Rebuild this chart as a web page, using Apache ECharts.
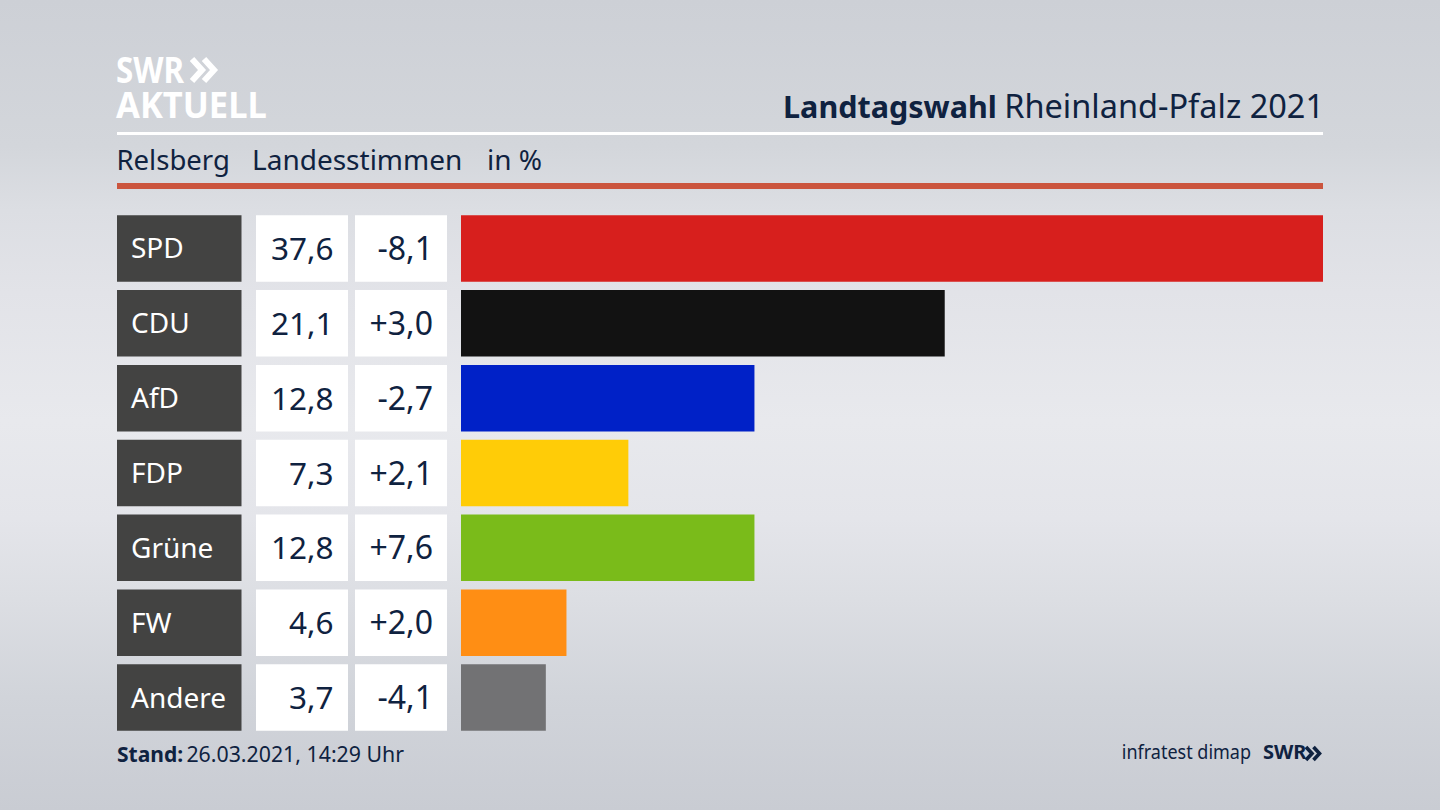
<!DOCTYPE html>
<html lang="de">
<head>
    <meta charset="UTF-8">
    <title>Landtagswahl Rheinland-Pfalz 2021</title>
    <style>
        html, body { margin: 0; height: 100%; }
        body {
            background: linear-gradient(to bottom, #cdd0d6 0%, #d3d6db 18%, #dcdee3 26%, #e2e3e8 36%, #e8e9ed 52%, #e4e5ea 64%, #dcdee3 74%, #d1d4da 86%, #c9ccd3 100%);
        }
        #chart { width: 1440px; height: 810px; }
    </style>
</head>
<body>
<div id="chart"></div>
<script src="https://cdn.jsdelivr.net/npm/echarts@6/dist/echarts.min.js"></script>
<script>
    var parties = ['SPD', 'CDU', 'AfD', 'FDP', 'Grüne', 'FW', 'Andere'];
    var shares = [37.6, 21.1, 12.8, 7.3, 12.8, 4.6, 3.7];
    var changes = ['-8,1', '+3,0', '-2,7', '+2,1', '+7,6', '+2,0', '-4,1'];
    var partyColors = ['#d71f1d', '#121212', '#0021c7', '#ffcc07', '#7abb1a', '#ff8e14', '#727274'];
    var cellFill = [1, 1, 1, 1, 1, 1, 1];

    var navy = '#0f2240';
    var font = '"Noto Sans", sans-serif';

    var myChart = echarts.init(document.getElementById('chart'), null, { renderer: 'svg' });

    function shareText(v) {
        return v.toFixed(1).replace('.', ',');
    }

    // die drei Tabellenspalten links, dann die eigentlichen Balken
    var columns = [
        { left: 117, width: 124.5, color: '#434342', text: parties, textColor: '#ffffff', pos: 'insideLeft', size: 28, dist: 14 },
        { left: 256, width: 92, color: '#ffffff', text: shares.map(shareText), textColor: navy, pos: 'insideRight', size: 31.5, dist: 14.5 },
        { left: 355, width: 92, color: '#ffffff', text: changes, textColor: navy, pos: 'insideRight', size: 32, dist: 14 }
    ];

    var grids = [], xAxes = [], yAxes = [], series = [];

    columns.forEach(function (col, i) {
        grids.push({ left: col.left, width: col.width, top: 211, height: 524 });
        xAxes.push({ gridIndex: i, type: 'value', min: 0, max: 1, show: false });
        yAxes.push({ gridIndex: i, type: 'category', data: parties, inverse: true, show: false });
        series.push({
            type: 'bar',
            xAxisIndex: i,
            yAxisIndex: i,
            data: cellFill,
            barWidth: 66.5,
            silent: true,
            itemStyle: { color: col.color },
            label: {
                show: true,
                position: col.pos,
                distance: col.dist,
                offset: [0, -1],
                color: col.textColor,
                fontFamily: font,
                fontSize: col.size,
                formatter: function (p) { return col.text[p.dataIndex]; }
            }
        });
    });

    grids.push({ left: 461, right: 117, top: 211, height: 524 });
    xAxes.push({ gridIndex: 3, type: 'value', min: 0, max: 37.6, show: false });
    yAxes.push({ gridIndex: 3, type: 'category', data: parties, inverse: true, show: false });
    series.push({
        type: 'bar',
        xAxisIndex: 3,
        yAxisIndex: 3,
        barWidth: 66.5,
        data: shares.map(function (v, i) {
            return { value: v, itemStyle: { color: partyColors[i] } };
        })
    });

    function chevrons(x, y, h, w, gap, lw, color) {
        var out = [];
        [0, gap].forEach(function (dx) {
            out.push({
                type: 'polyline',
                shape: { points: [[x + dx, y], [x + dx + w, y + h / 2], [x + dx, y + h]] },
                style: { stroke: color, lineWidth: lw, fill: null }
            });
        });
        return out;
    }

    var option = {
        animation: false,
        backgroundColor: 'transparent',
        grid: grids,
        xAxis: xAxes,
        yAxis: yAxes,
        series: series,
        graphic: [
            { type: 'rect', shape: { x: 117, y: 132, width: 1206, height: 3 }, style: { fill: '#ffffff' } },
            { type: 'rect', shape: { x: 117, y: 183, width: 1206, height: 6 }, style: { fill: '#cb553e' } },
            { type: 'text', x: 116, y: 54, scaleX: 0.87, style: { text: 'SWR', fill: '#ffffff', lineHeight: 30, font: 'bold 36px ' + font } },
            { type: 'text', x: 116, y: 89, scaleX: 0.96, style: { text: 'AKTUELL', fill: '#ffffff', lineHeight: 30, font: 'bold 36px ' + font } },
            { type: 'text', x: 116.5, y: 145, style: { text: 'Relsberg', fill: navy, font: '27.5px ' + font } },
            { type: 'text', x: 252, y: 145, style: { text: 'Landesstimmen', fill: navy, font: '28px ' + font } },
            { type: 'text', x: 487, y: 145, style: { text: 'in %', fill: navy, font: '28px ' + font } },
            {
                type: 'text', x: 1324, y: 89,
                style: {
                    text: '{b|Landtagswahl} {r|Rheinland-Pfalz 2021}',
                    align: 'right',
                    rich: {
                        b: { fill: navy, font: 'bold 30.5px ' + font },
                        r: { fill: navy, font: '32.5px ' + font, padding: [0, 0, 0, 4] }
                    }
                }
            },
            {
                type: 'text', x: 117, y: 743,
                style: {
                    text: '{b|Stand:} {r|26.03.2021, 14:29 Uhr}',
                    rich: {
                        b: { fill: navy, font: 'bold 21px ' + font },
                        r: { fill: navy, font: '21.3px ' + font }
                    }
                }
            },
            { type: 'text', x: 1251, y: 742, scaleX: 0.9, style: { text: 'infratest dimap', align: 'right', fill: navy, font: '20px ' + font } },
            { type: 'text', x: 1263, y: 741, style: { text: 'SWR', fill: navy, font: 'bold 20px ' + font } }
        ].concat(chevrons(192, 59, 22, 10, 12, 6, '#ffffff'), chevrons(1306, 747, 13, 6, 7.5, 3.6, navy))
    };

    myChart.setOption(option);
</script>
</body>
</html>
